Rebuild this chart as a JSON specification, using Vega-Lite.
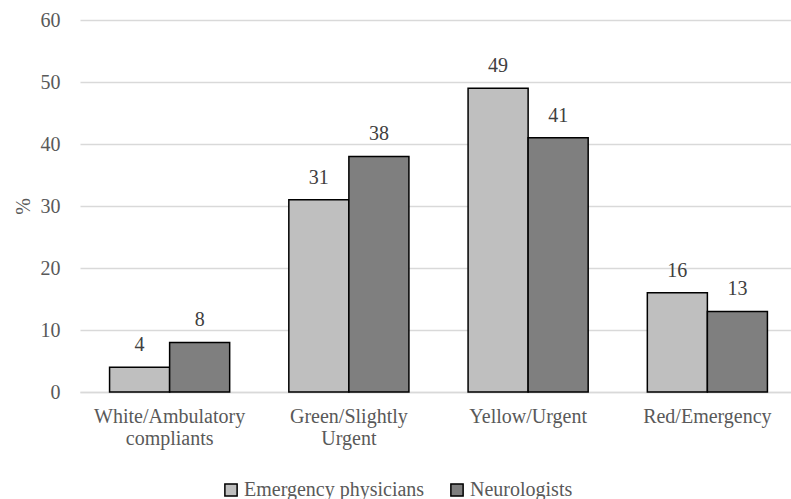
{
  "$schema": "https://vega.github.io/schema/vega-lite/v6.json",
  "autosize": "none",
  "width": 717,
  "height": 372,
  "padding": {"left": 80, "top": 20, "right": 0, "bottom": 107},
  "background": "white",
  "config": {
    "view": {"stroke": null},
    "font": "'Liberation Serif', 'Times New Roman', serif",
    "axis": {"labelFont": "'Liberation Serif', 'Times New Roman', serif", "titleFont": "'Liberation Serif', 'Times New Roman', serif", "labelColor": "#595959", "titleColor": "#595959", "labelFontSize": 20, "titleFontSize": 20, "titleFontWeight": "normal"},
    "legend": {"labelFont": "'Liberation Serif', 'Times New Roman', serif"},
    "text": {"font": "'Liberation Serif', 'Times New Roman', serif"}
  },
  "data": {
    "values": [
      {"category": "White/Ambulatory compliants", "group": "Emergency physicians", "value": 4},
      {"category": "White/Ambulatory compliants", "group": "Neurologists", "value": 8},
      {"category": "Green/Slightly Urgent", "group": "Emergency physicians", "value": 31},
      {"category": "Green/Slightly Urgent", "group": "Neurologists", "value": 38},
      {"category": "Yellow/Urgent", "group": "Emergency physicians", "value": 49},
      {"category": "Yellow/Urgent", "group": "Neurologists", "value": 41},
      {"category": "Red/Emergency", "group": "Emergency physicians", "value": 16},
      {"category": "Red/Emergency", "group": "Neurologists", "value": 13}
    ]
  },
  "encoding": {
    "x": {
      "field": "category", "type": "nominal", "sort": null,
      "scale": {"paddingInner": 0.33, "paddingOuter": 0.165},
      "axis": {
        "title": null, "labelAngle": 0, "ticks": false, "domainColor": "#d9d9d9", "domainWidth": 1.5,
        "labelPadding": 14, "labelLineHeight": 22, "labelLimit": 300,
        "labelExpr": "datum.label == 'White/Ambulatory compliants' ? ['White/Ambulatory', 'compliants'] : datum.label == 'Green/Slightly Urgent' ? ['Green/Slightly', 'Urgent'] : datum.label"
      }
    },
    "xOffset": {"field": "group", "type": "nominal", "sort": ["Emergency physicians", "Neurologists"]},
    "y": {
      "field": "value", "type": "quantitative",
      "scale": {"domain": [0, 60]},
      "axis": {"title": "%", "titleAngle": -90, "titlePadding": 7, "values": [0, 10, 20, 30, 40, 50, 60], "labelOverlap": false, "domain": false, "ticks": false, "gridColor": "#d9d9d9", "gridWidth": 1.5, "labelPadding": 20}
    }
  },
  "layer": [
    {
      "mark": {"type": "bar", "stroke": "#000000", "strokeWidth": 1.5},
      "encoding": {
        "color": {
          "field": "group", "type": "nominal",
          "scale": {"domain": ["Emergency physicians", "Neurologists"], "range": ["#bfbfbf", "#7f7f7f"]},
          "legend": {
            "title": null, "orient": "none", "direction": "horizontal",
            "legendX": 141, "legendY": 460, "labelLimit": 300,
            "symbolType": "square", "symbolSize": 150, "symbolStrokeColor": "#000000", "symbolStrokeWidth": 1.5,
            "labelFontSize": 20, "labelColor": "#595959", "columnPadding": 22, "labelOffset": 3
          }
        }
      }
    },
    {
      "mark": {"type": "text", "dy": -22, "fontSize": 20, "color": "#404040"},
      "encoding": {"text": {"field": "value", "type": "quantitative"}}
    }
  ]
}
